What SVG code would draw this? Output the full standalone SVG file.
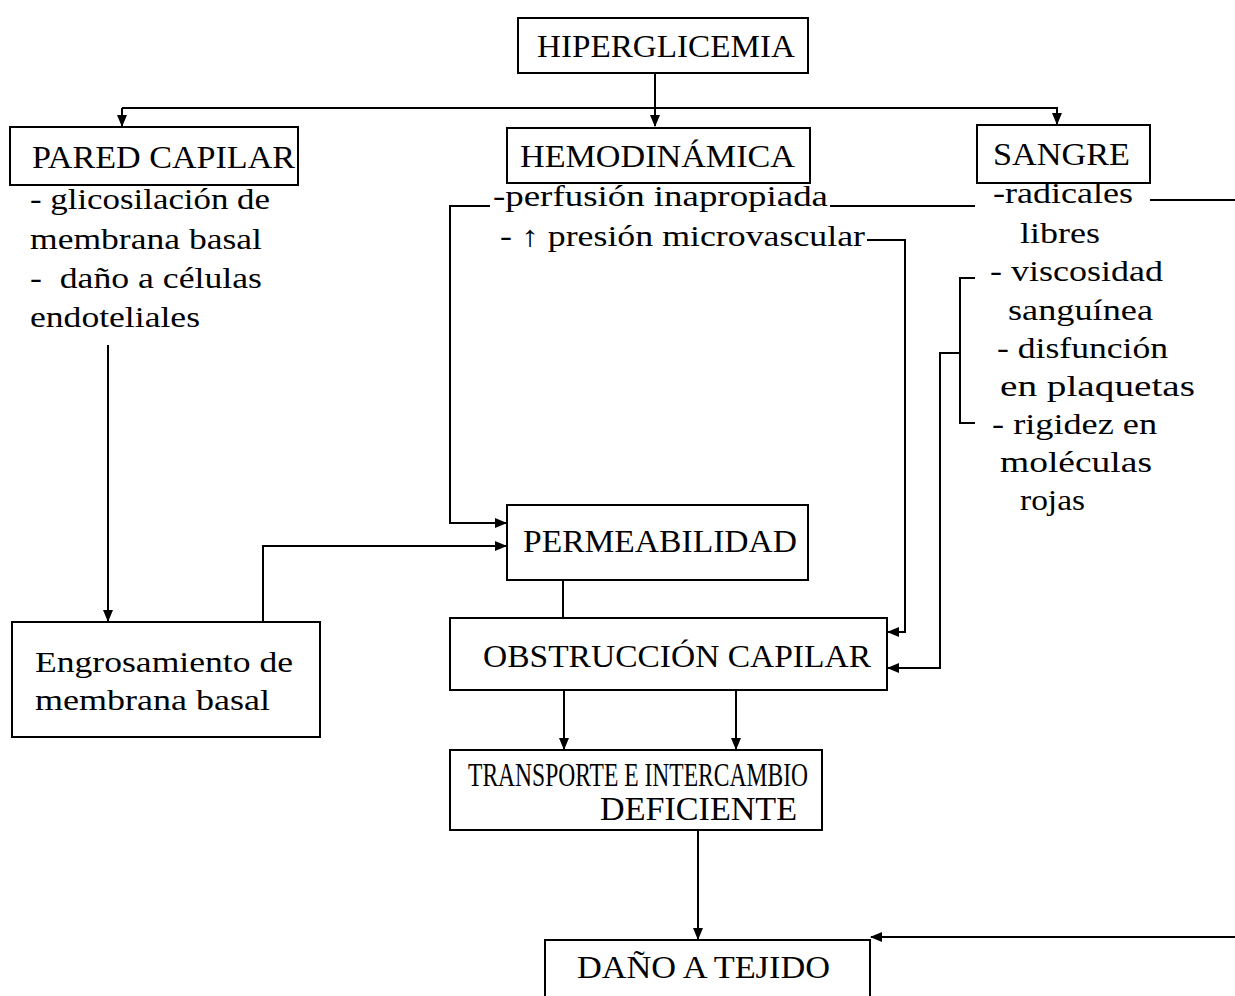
<svg xmlns="http://www.w3.org/2000/svg" width="1235" height="996" viewBox="0 0 1235 996">
<defs>
<marker id="ah" markerUnits="userSpaceOnUse" markerWidth="12" markerHeight="12" viewBox="0 0 12 12" refX="11" refY="6" orient="auto">
<path d="M0,1 L12,6 L0,11 Z" fill="#000"/>
</marker>
</defs>
<style>
.box{fill:#fff;stroke:#000;stroke-width:2}
.t{font-family:"Liberation Serif","Times New Roman",serif;fill:#000}
.h{font-size:31px}
.tr{font-size:34px}
.b{font-size:29px}
.c{fill:none;stroke:#000;stroke-width:2}
.a{marker-end:url(#ah)}
</style>
<rect width="1235" height="996" fill="#fff"/>

<g id="connectors">
<path class="c a" d="M655,73 V126"/>
<path class="c a" d="M122,108 H1057 V124"/>
<path class="c a" d="M122,108 V126"/>
<path class="c a" d="M490,206 H450 V523 H506"/>
<path class="c" d="M830,206 H975"/>
<path class="c" d="M1150,200 H1235"/>
<path class="c a" d="M867,240 H905 V632 H888"/>
<path class="c" d="M975,278 H960 V423 H975"/>
<path class="c a" d="M960,353 H940 V668 H888"/>
<path class="c a" d="M108,345 V621"/>
<path class="c a" d="M263,622 V546 H506"/>
<path class="c" d="M563,580 V618"/>
<path class="c a" d="M564,690 V749"/>
<path class="c a" d="M736,690 V749"/>
<path class="c a" d="M698,830 V939"/>
<path class="c a" d="M1235,937 H871"/>
</g>

<g id="hiperglicemia">
<rect class="box" x="518" y="18" width="290" height="55"/>
<text class="t h" x="537" y="57" textLength="258" lengthAdjust="spacingAndGlyphs">HIPERGLICEMIA</text>
</g>

<g id="pared-capilar">
<rect class="box" x="10" y="127" width="288" height="58"/>
<text class="t h" x="32" y="168" textLength="263" lengthAdjust="spacingAndGlyphs">PARED CAPILAR</text>
<text class="t b" x="30" y="209" textLength="240" lengthAdjust="spacingAndGlyphs">- glicosilación de</text>
<text class="t b" x="30" y="249" textLength="232" lengthAdjust="spacingAndGlyphs">membrana basal</text>
<text class="t b" x="30" y="288" xml:space="preserve" textLength="232" lengthAdjust="spacingAndGlyphs">-  daño a células</text>
<text class="t b" x="30" y="327" textLength="170" lengthAdjust="spacingAndGlyphs">endoteliales</text>
</g>

<g id="hemodinamica">
<rect class="box" x="507" y="128" width="303" height="55"/>
<text class="t h" x="520" y="167" textLength="275" lengthAdjust="spacingAndGlyphs">HEMODINÁMICA</text>
<text class="t b" x="493" y="206" textLength="335" lengthAdjust="spacingAndGlyphs">-perfusión inapropiada</text>
<text class="t b" x="500" y="246" textLength="365" lengthAdjust="spacingAndGlyphs">- ↑ presión microvascular</text>
</g>

<g id="sangre">
<rect class="box" x="977" y="125" width="173" height="58"/>
<text class="t h" x="993" y="165" textLength="137" lengthAdjust="spacingAndGlyphs">SANGRE</text>
<text class="t b" x="993" y="203" textLength="140" lengthAdjust="spacingAndGlyphs">-radicales</text>
<text class="t b" x="1020" y="243" textLength="80" lengthAdjust="spacingAndGlyphs">libres</text>
<text class="t b" x="990" y="281" textLength="173" lengthAdjust="spacingAndGlyphs">- viscosidad</text>
<text class="t b" x="1008" y="320" textLength="145" lengthAdjust="spacingAndGlyphs">sanguínea</text>
<text class="t b" x="997" y="358" textLength="171" lengthAdjust="spacingAndGlyphs">- disfunción</text>
<text class="t b" x="1000" y="396" textLength="195" lengthAdjust="spacingAndGlyphs">en plaquetas</text>
<text class="t b" x="992" y="434" textLength="165" lengthAdjust="spacingAndGlyphs">- rigidez en</text>
<text class="t b" x="1000" y="472" textLength="152" lengthAdjust="spacingAndGlyphs">moléculas</text>
<text class="t b" x="1020" y="510" textLength="65" lengthAdjust="spacingAndGlyphs">rojas</text>
</g>

<g id="permeabilidad">
<rect class="box" x="507" y="505" width="301" height="75"/>
<text class="t h" x="523" y="552" textLength="274" lengthAdjust="spacingAndGlyphs">PERMEABILIDAD</text>
</g>

<g id="engrosamiento">
<rect class="box" x="12" y="622" width="308" height="115"/>
<text class="t b" x="35" y="672" textLength="258" lengthAdjust="spacingAndGlyphs">Engrosamiento de</text>
<text class="t b" x="35" y="710" textLength="235" lengthAdjust="spacingAndGlyphs">membrana basal</text>
</g>

<g id="obstruccion">
<rect class="box" x="450" y="618" width="437" height="72"/>
<text class="t h" x="483" y="667" textLength="388" lengthAdjust="spacingAndGlyphs">OBSTRUCCIÓN CAPILAR</text>
</g>

<g id="transporte">
<rect class="box" x="450" y="750" width="372" height="80"/>
<text class="t tr" x="468" y="786" textLength="340" lengthAdjust="spacingAndGlyphs">TRANSPORTE E INTERCAMBIO</text>
<text class="t tr" x="600" y="820" textLength="197" lengthAdjust="spacingAndGlyphs">DEFICIENTE</text>
</g>

<g id="dano">
<rect class="box" x="545" y="940" width="325" height="70"/>
<text class="t h" x="577" y="978" textLength="253" lengthAdjust="spacingAndGlyphs">DAÑO A TEJIDO</text>
</g>
</svg>
